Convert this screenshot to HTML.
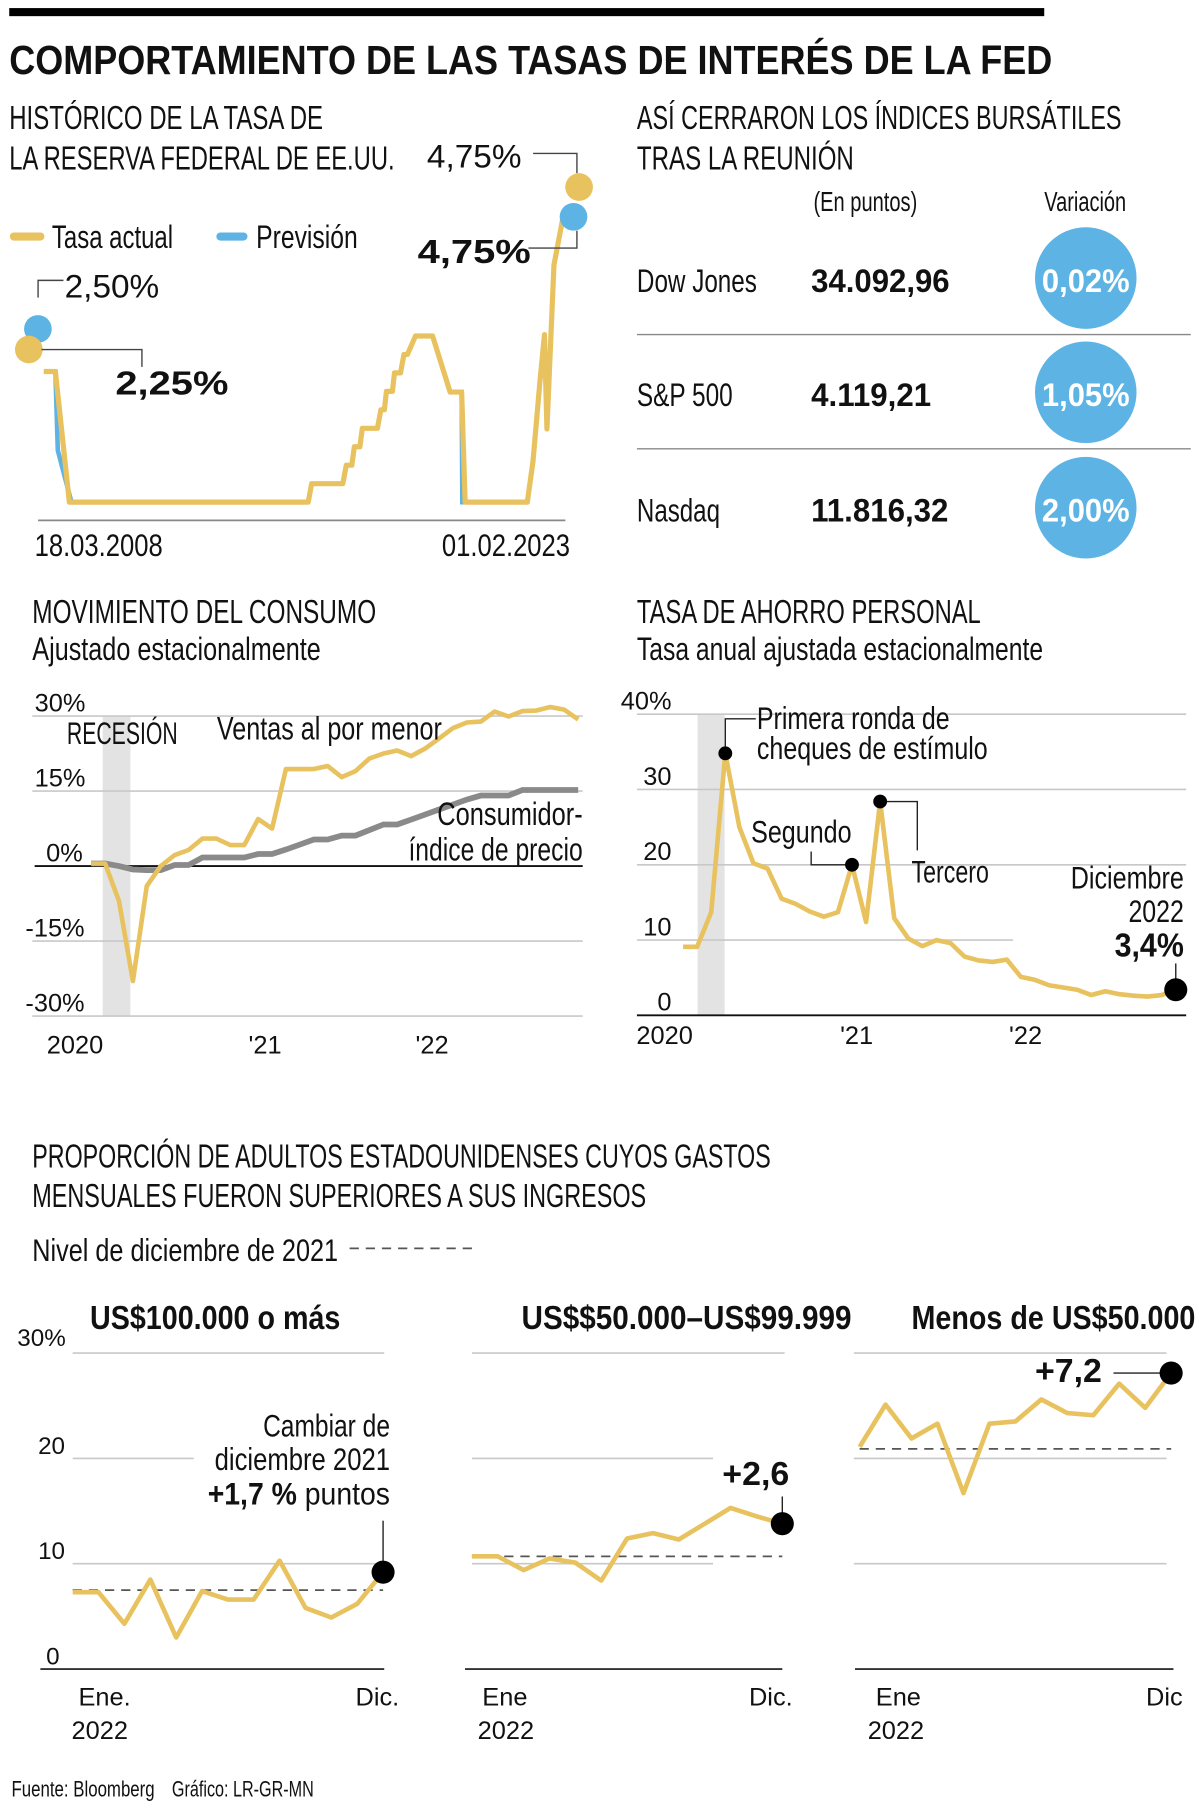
<!DOCTYPE html>
<html><head><meta charset="utf-8">
<style>
html,body{margin:0;padding:0;background:#fff;}
svg{display:block;}
text{font-family:"Liberation Sans Narrow","Liberation Sans",sans-serif;fill:#111;}
.b{font-weight:bold;}
</style></head>
<body>
<svg id="root" xmlns="http://www.w3.org/2000/svg" width="1200" height="1802" viewBox="0 0 1040 1561.8" preserveAspectRatio="none">
<rect x="8" y="7" width="897" height="7" fill="#000"/>
<text x="8" y="64" font-size="35" class="b" textLength="904" lengthAdjust="spacingAndGlyphs">COMPORTAMIENTO DE LAS TASAS DE INTERÉS DE LA FED</text>

<!-- Fed section -->
<text x="8" y="112" font-size="29" textLength="272" lengthAdjust="spacingAndGlyphs">HISTÓRICO DE LA TASA DE</text>
<text x="8" y="147" font-size="29" textLength="334" lengthAdjust="spacingAndGlyphs">LA RESERVA FEDERAL DE EE.UU.</text>
<line x1="12" y1="205" x2="35" y2="205" stroke="#E8C25E" stroke-width="7" stroke-linecap="round"/>
<text x="45" y="215" font-size="28" textLength="105" lengthAdjust="spacingAndGlyphs">Tasa actual</text>
<line x1="191" y1="205" x2="211" y2="205" stroke="#5DB4E4" stroke-width="7" stroke-linecap="round"/>
<text x="222" y="215" font-size="28" textLength="88" lengthAdjust="spacingAndGlyphs">Previsión</text>
<line x1="33" y1="451" x2="490" y2="451" stroke="#888" stroke-width="1.5"/>
<text x="30" y="482" font-size="27" textLength="111" lengthAdjust="spacingAndGlyphs">18.03.2008</text>
<text x="383" y="482" font-size="27" textLength="111" lengthAdjust="spacingAndGlyphs">01.02.2023</text>
<g id="fed"></g>
<polyline points="33,258 33,243 55,243" fill="none" stroke="#444" stroke-width="1.2"/>
<text x="56" y="258" font-size="28" textLength="82" lengthAdjust="spacingAndGlyphs">2,50%</text>
<polyline points="36,303 123,303 123,318" fill="none" stroke="#444" stroke-width="1.2"/>
<text x="100" y="342" font-size="29" class="b" textLength="98" lengthAdjust="spacingAndGlyphs">2,25%</text>
<polyline points="462,133 500,133 500,150" fill="none" stroke="#444" stroke-width="1.2"/>
<text x="370" y="145" font-size="28" textLength="82" lengthAdjust="spacingAndGlyphs">4,75%</text>
<polyline points="458,215 500,215 500,200" fill="none" stroke="#444" stroke-width="1.2"/>
<text x="362" y="228" font-size="29" class="b" textLength="98" lengthAdjust="spacingAndGlyphs">4,75%</text>

<!-- Index table -->
<text x="552" y="112" font-size="29" textLength="420" lengthAdjust="spacingAndGlyphs">ASÍ CERRARON LOS ÍNDICES BURSÁTILES</text>
<text x="552" y="147" font-size="29" textLength="188" lengthAdjust="spacingAndGlyphs">TRAS LA REUNIÓN</text>
<text x="705" y="183" font-size="24" textLength="90" lengthAdjust="spacingAndGlyphs">(En puntos)</text>
<text x="905" y="183" font-size="24" textLength="71" lengthAdjust="spacingAndGlyphs">Variación</text>
<g>
<text x="552" y="253" font-size="28" textLength="104" lengthAdjust="spacingAndGlyphs">Dow Jones</text>
<text x="703" y="253" font-size="28" class="b" textLength="120" lengthAdjust="spacingAndGlyphs">34.092,96</text>
<circle cx="941" cy="241" r="44" fill="#5DB4E4"/>
<text x="941" y="253" font-size="28" class="b" text-anchor="middle" style="fill:#fff" textLength="76" lengthAdjust="spacingAndGlyphs">0,02%</text>
</g>
<line x1="552" y1="290" x2="1032" y2="290" stroke="#888" stroke-width="1.2"/>
<g>
<text x="552" y="352" font-size="28" textLength="83" lengthAdjust="spacingAndGlyphs">S&amp;P 500</text>
<text x="703" y="352" font-size="28" class="b" textLength="104" lengthAdjust="spacingAndGlyphs">4.119,21</text>
<circle cx="941" cy="340" r="44" fill="#5DB4E4"/>
<text x="941" y="352" font-size="28" class="b" text-anchor="middle" style="fill:#fff" textLength="76" lengthAdjust="spacingAndGlyphs">1,05%</text>
</g>
<line x1="552" y1="389" x2="1032" y2="389" stroke="#888" stroke-width="1.2"/>
<g>
<text x="552" y="452" font-size="28" textLength="72" lengthAdjust="spacingAndGlyphs">Nasdaq</text>
<text x="703" y="452" font-size="28" class="b" textLength="119" lengthAdjust="spacingAndGlyphs">11.816,32</text>
<circle cx="941" cy="440" r="44" fill="#5DB4E4"/>
<text x="941" y="452" font-size="28" class="b" text-anchor="middle" style="fill:#fff" textLength="76" lengthAdjust="spacingAndGlyphs">2,00%</text>
</g>

<!-- Consumption -->
<text x="28" y="540" font-size="29" textLength="298" lengthAdjust="spacingAndGlyphs">MOVIMIENTO DEL CONSUMO</text>
<text x="28" y="572" font-size="28" textLength="250" lengthAdjust="spacingAndGlyphs">Ajustado estacionalmente</text>
<g id="cons"></g>
<text x="58" y="645" font-size="27" textLength="96" lengthAdjust="spacingAndGlyphs">RECESIÓN</text>
<text x="188" y="641" font-size="28" textLength="195" lengthAdjust="spacingAndGlyphs">Ventas al por menor</text>
<text x="505" y="715" font-size="28" text-anchor="end" textLength="126" lengthAdjust="spacingAndGlyphs">Consumidor-</text>
<text x="505" y="746" font-size="28" text-anchor="end" textLength="151" lengthAdjust="spacingAndGlyphs">índice de precio</text>

<!-- Savings -->
<text x="552" y="540" font-size="29" textLength="298" lengthAdjust="spacingAndGlyphs">TASA DE AHORRO PERSONAL</text>
<text x="552" y="572" font-size="28" textLength="352" lengthAdjust="spacingAndGlyphs">Tasa anual ajustada estacionalmente</text>
<g id="sav"></g>
<text x="656" y="632" font-size="27" textLength="167" lengthAdjust="spacingAndGlyphs">Primera ronda de</text>
<text x="656" y="658" font-size="27" textLength="200" lengthAdjust="spacingAndGlyphs">cheques de estímulo</text>
<text x="651" y="730" font-size="27" textLength="87" lengthAdjust="spacingAndGlyphs">Segundo</text>
<text x="790" y="765" font-size="27" textLength="67" lengthAdjust="spacingAndGlyphs">Tercero</text>
<text x="1026" y="770" font-size="27" text-anchor="end" textLength="98" lengthAdjust="spacingAndGlyphs">Diciembre</text>
<text x="1026" y="799" font-size="27" text-anchor="end" textLength="48" lengthAdjust="spacingAndGlyphs">2022</text>
<text x="1026" y="829" font-size="29" class="b" text-anchor="end" textLength="60" lengthAdjust="spacingAndGlyphs">3,4%</text>

<!-- Bottom section -->
<text x="28" y="1012" font-size="29" textLength="640" lengthAdjust="spacingAndGlyphs">PROPORCIÓN DE ADULTOS ESTADOUNIDENSES CUYOS GASTOS</text>
<text x="28" y="1046" font-size="29" textLength="532" lengthAdjust="spacingAndGlyphs">MENSUALES FUERON SUPERIORES A SUS INGRESOS</text>
<text x="28" y="1093" font-size="27" textLength="265" lengthAdjust="spacingAndGlyphs">Nivel de diciembre de 2021</text>
<line x1="303" y1="1082" x2="415" y2="1082" stroke="#555" stroke-width="1.5" stroke-dasharray="8,6"/>
<text x="78" y="1152" font-size="29" class="b" textLength="217" lengthAdjust="spacingAndGlyphs">US$100.000 o más</text>
<text x="452" y="1152" font-size="29" class="b" textLength="286" lengthAdjust="spacingAndGlyphs">US$$50.000–US$99.999</text>
<text x="790" y="1152" font-size="29" class="b" textLength="246" lengthAdjust="spacingAndGlyphs">Menos de US$50.000</text>
<g id="bottom"></g>
<rect x="168" y="1228" width="172" height="84" fill="#fff"/>
<text x="338" y="1245" font-size="27" text-anchor="end" textLength="110" lengthAdjust="spacingAndGlyphs">Cambiar de</text>
<text x="338" y="1274" font-size="27" text-anchor="end" textLength="152" lengthAdjust="spacingAndGlyphs">diciembre 2021</text>
<text x="338" y="1304" font-size="27" text-anchor="end" textLength="158" lengthAdjust="spacingAndGlyphs"><tspan class="b">+1,7 %</tspan> puntos</text>
<text x="684" y="1287" font-size="29" class="b" text-anchor="end" textLength="58" lengthAdjust="spacingAndGlyphs">+2,6</text>
<text x="897" y="1198" font-size="29" class="b" textLength="58" lengthAdjust="spacingAndGlyphs">+7,2</text>
<text x="10" y="1557" font-size="19" textLength="124" lengthAdjust="spacingAndGlyphs">Fuente: Bloomberg</text>
<text x="149" y="1557" font-size="19" textLength="123" lengthAdjust="spacingAndGlyphs">Gráfico: LR-GR-MN</text>
</svg>
<script>
// ---------- DATA ----------
const fedYears = [2008.2,2008.53,2008.93,2015.76,2015.86,2016.75,2016.85,2017.01,2017.08,2017.24,2017.31,2017.74,2017.84,2017.94,2018.0,2018.17,2018.23,2018.4,2018.5,2018.6,2018.83,2019.32,2019.82,2020.15,2020.25,2022.03,2022.19,2022.39,2022.52,2022.59,2022.79,2023.05];
const fedRates = [1.87,1.87,0.03,0.03,0.29,0.29,0.55,0.55,0.81,0.81,1.07,1.07,1.33,1.33,1.59,1.59,1.85,1.85,2.11,2.11,2.37,2.37,1.58,1.58,0.03,0.03,0.6,1.74,2.39,1.06,3.37,4.05];
const fedForecastYearsA = [2008.2,2008.53,2008.6,2008.99,2009.5];
const fedForecastRatesA = [1.87,1.87,0.76,0.03,0.03];
const fedForecastYearsB = [2019.82,2020.15,2020.17,2020.5];
const fedForecastRatesB = [1.58,1.58,0.03,0.03];
const fedMarkerYears = [2008.03,2007.77,2023.35,2023.51];
const fedMarkerRates = [2.47,2.18,4.05,4.47];
const fedMarkerKinds = ['forecast','actual','forecast','actual'];

const consTicks = [30,15,0,-15,-30];
const consTickLabels = ['30%','15%','0%','-15%','-30%'];
const retailValues = [0.5,0.5,-7,-23,-4,0,2.2,3.2,5.5,5.5,4.2,4.2,9.4,7.5,19.4,19.4,19.4,20.0,17.8,19.0,21.5,22.5,23.1,22.0,23.5,25.5,27.6,28.7,28.9,30.9,29.9,31.0,31.1,31.8,31.3,29.3];
const cpiValues = [0.5,0.5,0,-0.7,-0.8,-0.8,0.2,0.2,1.7,1.7,1.7,1.7,2.4,2.4,3.3,4.3,5.3,5.3,6.1,6.1,7.2,8.3,8.3,9.3,10.3,11.3,12.3,13.3,14.1,14.1,14.1,15.2,15.2,15.2,15.2,15.2];
const yearLabels = ['2020',"'21","'22"];
const yearLabelMonths = [0,12,24];

const savTicks = [40,30,20,10,0];
const savTickLabels = ['40%','30','20','10','0'];
const savingsValues = [9.1,9.1,13.7,34.8,25,20.2,19.5,15.5,14.8,13.8,13.1,13.7,20.0,12.4,28.4,12.9,10.2,9.2,10,9.6,7.8,7.3,7.1,7.4,5.1,4.7,4.0,3.7,3.4,2.7,3.2,2.8,2.6,2.5,2.7,3.4];
const savAnnotMonths = [3,12,14,35];

const spendTicks = [30,20,10];
const spendTickLabels = ['30%','20','10','0'];
const spendHigh = [7.3,7.3,4.3,8.5,3.0,7.4,6.6,6.6,10.3,5.8,4.9,6.2,9.2];
const spendMid = [10.7,10.7,9.4,10.5,10.1,8.4,12.4,12.9,12.3,13.8,15.3,14.5,13.8];
const spendLow = [21.1,25.1,21.9,23.3,16.7,23.3,23.5,25.6,24.3,24.1,27.1,24.8,28.1];
const spendDec2021 = [7.5,10.7,20.9];

// ---------- HELPERS ----------
const NS='http://www.w3.org/2000/svg';
const YEL='#E8C25E', BLUE='#5DB4E4';
function el(tag, parent){const e=document.createElementNS(NS,tag);parent.appendChild(e);return e;}
function set(e,o){for(const k in o)e.setAttribute(k,o[k]);return e;}
function txt(parent,x,y,s,size,anchor){const t=el('text',parent);set(t,{x:x,y:y,'font-size':size,'text-anchor':anchor||'start'});t.textContent=s;return t;}

// ---------- FED ----------
(function(){
const g=document.getElementById('fed');
const fx=y=>38+(y-2008.2)*30.3, fy=r=>437-r*61.5;
const pts=(xs,ys)=>xs.map((v,i)=>fx(v).toFixed(1)+','+fy(ys[i]).toFixed(1)).join(' ');
const b1=el('polyline',g);set(b1,{points:pts(fedForecastYearsA,fedForecastRatesA),fill:'none',stroke:BLUE,'stroke-width':4});


const b2=el('polyline',g);set(b2,{points:pts(fedForecastYearsB,fedForecastRatesB),fill:'none',stroke:BLUE,'stroke-width':4});


const y1=el('polyline',g);set(y1,{points:pts(fedYears,fedRates),fill:'none',stroke:YEL,'stroke-width':4.5,'stroke-linejoin':'round'});


fedMarkerYears.forEach((yr,i)=>{
 const c=el('circle',g);set(c,{cx:fx(yr),cy:fy(fedMarkerRates[i]),r:12,fill:fedMarkerKinds[i]==='actual'?YEL:BLUE});
 
 
});
})();

// ---------- CONSUMPTION ----------
(function(){
const g=document.getElementById('cons');
const cx=m=>79+m*12.06, cy=v=>750.6-v*4.333;
const band=el('rect',g);set(band,{x:89,y:cy(30),width:24,height:cy(-30)-cy(30),fill:'#e3e3e3'});


consTicks.forEach((t,i)=>{
 const l=el('line',g);set(l,{x1:t===0?30:28,x2:505,y1:cy(t),y2:cy(t),stroke:t===0?'#111':'#c8c8c8','stroke-width':t===0?1.6:1.4});
 
 
 const tx=txt(g,t<0?22:(t===0?40:30),cy(t)-4,consTickLabels[i],22);
 
 
});
yearLabels.forEach((s,i)=>{
 const t=txt(g,cx(yearLabelMonths[i])-(i===0?14:0)+(i===0?0:6),913,s,22,'middle');
 
 
});
const p=(arr)=>arr.map((v,i)=>cx(i).toFixed(1)+','+cy(v).toFixed(1)).join(' ');
const c=el('polyline',g);set(c,{points:p(cpiValues),fill:'none',stroke:'#8a8a8a','stroke-width':5});


const r=el('polyline',g);set(r,{points:p(retailValues),fill:'none',stroke:YEL,'stroke-width':4,'stroke-linejoin':'round'});


})();

// ---------- SAVINGS ----------
(function(){
const g=document.getElementById('sav');
const sx=m=>592+m*12.2, sy=v=>880-v*6.525;
const band=el('rect',g);set(band,{x:604.6,y:sy(40),width:23.4,height:sy(0)-sy(40),fill:'#e3e3e3'});


savTicks.forEach((t,i)=>{
 const l=el('line',g);set(l,{x1:552,x2:t===10?878:1028,y1:sy(t),y2:sy(t),stroke:t===0?'#111':'#c8c8c8','stroke-width':t===0?1.6:1.4});
 
 
 const tx=txt(g,582,sy(t)-4,savTickLabels[i],22,'end');
 
 
});
yearLabels.forEach((s,i)=>{
 const t=txt(g,sx(yearLabelMonths[i])-(i===0?16:-4),905,s,22,'middle');
 
 
});
const l=el('polyline',g);set(l,{points:savingsValues.map((v,i)=>sx(i).toFixed(1)+','+sy(v).toFixed(1)).join(' '),fill:'none',stroke:YEL,'stroke-width':4,'stroke-linejoin':'round'});


const a0x=sx(savAnnotMonths[0]),a0y=sy(savingsValues[savAnnotMonths[0]]);
const a1x=sx(savAnnotMonths[1]),a1y=sy(savingsValues[savAnnotMonths[1]]);
const a2x=sx(savAnnotMonths[2]),a2y=sy(savingsValues[savAnnotMonths[2]]);
const a3x=sx(savAnnotMonths[3]),a3y=sy(savingsValues[savAnnotMonths[3]]);
[[a0x+','+a0y+' '+a0x+',623 655,623'],[a1x+','+a1y+' 703,'+a1y+' 703,738'],[a2x+','+a2y+' 795,'+a2y+' 795,737'],[a3x+','+a3y+' '+a3x+',835']].forEach(pp=>{
 const ld=el('polyline',g);set(ld,{points:pp[0],fill:'none',stroke:'#222','stroke-width':1.2});
 
 
});
savAnnotMonths.forEach((m,i)=>{
 const c=el('circle',g);set(c,{cx:sx(m),cy:sy(savingsValues[m]),r:i===3?10:6,fill:'#000'});
 
 
});
})();

// ---------- BOTTOM PANELS ----------
(function(){
const g=document.getElementById('bottom');
const py=v=>1446.6-v*9.13;
const panels=[{d:spendHigh,x0:63,x1:332,gx0:63,gx1:333,ax0:35,ax1:333},{d:spendMid,x0:409,x1:678,gx0:409,gx1:680,ax0:403,ax1:678},{d:spendLow,x0:745,x1:1015,gx0:740,gx1:1011,ax0:741,ax1:1017}];
const xl=[['Ene.','Dic.',68,346,62],['Ene','Dic.',418,687,414],['Ene','Dic',759,1025,752]];
panels.forEach((P,pi)=>{
 spendTicks.forEach(t=>{
  const l=el('line',g);set(l,{x1:P.gx0,x2:(pi===0&&t===20)?168:(pi===1&&t<=20?618:P.gx1),y1:py(t),y2:py(t),stroke:'#c8c8c8','stroke-width':1.4});
  
  
 });
 const ax=el('line',g);set(ax,{x1:P.ax0,x2:P.ax1,y1:py(0),y2:py(0),stroke:'#333','stroke-width':1.6});
 
 
 const xs=i=>P.x0+i*(P.x1-P.x0)/(P.d.length-1);
 const dl=el('line',g);set(dl,{x1:P.x0,x2:P.x1,y1:py(spendDec2021[pi]),y2:py(spendDec2021[pi]),stroke:'#555','stroke-width':1.5,'stroke-dasharray':'8,6'});
 
 
 const ln=el('polyline',g);set(ln,{points:P.d.map((v,i)=>xs(i).toFixed(1)+','+py(v).toFixed(1)).join(' '),fill:'none',stroke:YEL,'stroke-width':4,'stroke-linejoin':'round'});
 
 
 const lastX=xs(P.d.length-1), lastY=py(P.d[P.d.length-1]);
 const ld=el('polyline',g);
 if(pi===0) set(ld,{points:lastX+',1318 '+lastX+','+lastY});
 else if(pi===1) set(ld,{points:lastX+',1297 '+lastX+','+lastY});
 else set(ld,{points:'965,'+lastY+' '+lastX+','+lastY});
 set(ld,{fill:'none',stroke:'#222','stroke-width':1.2});
 
 
 const dot=el('circle',g);set(dot,{cx:lastX,cy:lastY,r:10,fill:'#000'});
 
 
 const t1=txt(g,xl[pi][2],1478,xl[pi][0],22);
 
 
 const t2=txt(g,xl[pi][3],1478,xl[pi][1],22,'end');
 
 
 const t3=txt(g,xl[pi][4],1507,'2022',22);
 
 
});
[30,20,10,0].forEach((t,i)=>{
 const tx=txt(g,i===0?15:(t===0?40:33),py(t)-4+(i===0?-2:0),spendTickLabels[i],21);
 
 
});
})();
</script>
</body></html>
